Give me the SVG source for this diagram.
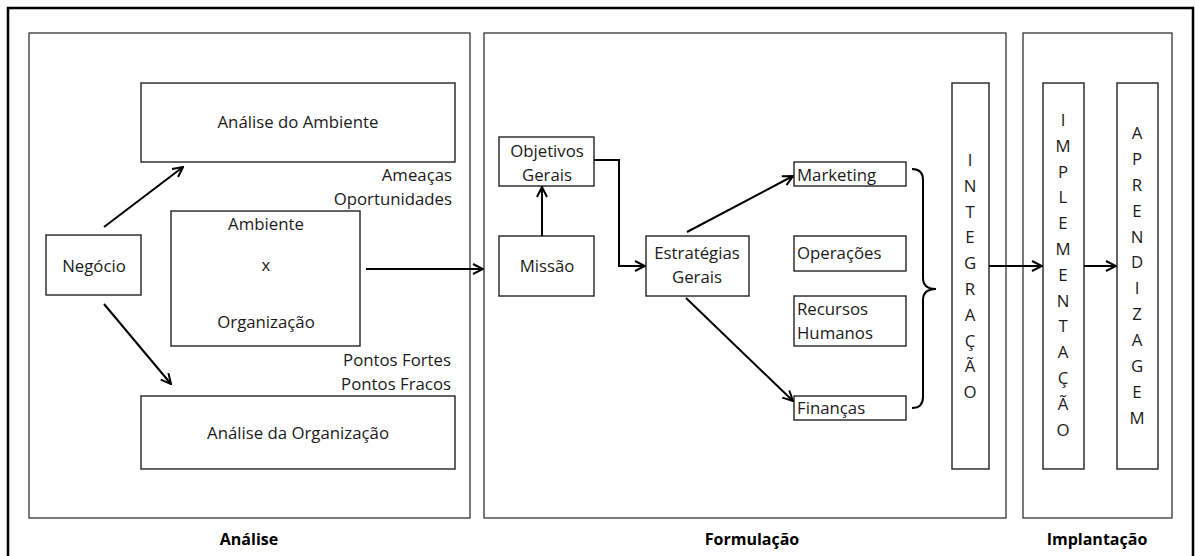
<svg xmlns="http://www.w3.org/2000/svg" width="1195" height="556" viewBox="0 0 1195 556">
  <style>
    .frame { fill: none; stroke: #000; stroke-width: 2.5; }
    .panel { fill: #fff; stroke: #333; stroke-width: 1.3; }
    .box { fill: #fff; stroke: #222; stroke-width: 1.4; }
    .t { font-family: "Open Sans", "Noto Sans", sans-serif; font-size: 16.8px; fill: #1a1a1a; }
    .c { text-anchor: middle; }
    .r { text-anchor: end; }
    .v { font-family: "Open Sans", "Noto Sans", sans-serif; font-size: 16.8px; fill: #1a1a1a; text-anchor: middle; }
    .lbl { font-family: "Open Sans", "Noto Sans", sans-serif; font-size: 16px; font-weight: bold; fill: #000; text-anchor: middle; }
    .conn { fill: none; stroke: #000; stroke-width: 2; }
  </style>
  <defs>
    <marker id="arrow" viewBox="0 0 12 12" refX="11" refY="6" markerWidth="12" markerHeight="12" markerUnits="userSpaceOnUse" orient="auto">
      <path d="M1,1 L11,6 L1,11" fill="none" stroke="#000" stroke-width="2"/>
    </marker>
  </defs>

  <rect width="1195" height="556" fill="#fff"/>
  <!-- outer frame, open at the bottom -->
  <path class="frame" d="M8,560 L8,8 L1193,8 L1193,560"/>

  <!-- stage panels -->
  <g id="analise">
    <rect class="panel" x="29" y="33" width="441" height="485"/>
    <text class="lbl" x="249" y="545">Análise</text>
  </g>
  <g id="formulacao">
    <rect class="panel" x="484" y="33" width="522" height="485"/>
    <text class="lbl" x="752" y="545">Formulação</text>
  </g>
  <g id="implantacao">
    <rect class="panel" x="1023" y="33" width="149" height="485"/>
    <text class="lbl" x="1097" y="545">Implantação</text>
  </g>

  <!-- analysis nodes -->
  <g id="negocio">
    <rect class="box" x="46" y="235" width="95" height="60"/>
    <text class="t c" x="94" y="272">Negócio</text>
  </g>
  <g id="analise-ambiente">
    <rect class="box" x="141" y="83" width="314" height="79"/>
    <text class="t c" x="298" y="128">Análise do Ambiente</text>
  </g>
  <g id="ambiente-organizacao">
    <rect class="box" x="171" y="211" width="189" height="135"/>
    <text class="t c" x="266" y="230">Ambiente</text>
    <text class="t c" x="266" y="271">x</text>
    <text class="t c" x="266" y="328">Organização</text>
  </g>
  <g id="analise-organizacao">
    <rect class="box" x="141" y="396" width="314" height="73"/>
    <text class="t c" x="298" y="439">Análise da Organização</text>
  </g>
  <g id="ameacas">
    <text class="t r" x="452" y="181">Ameaças</text>
    <text class="t r" x="452" y="205">Oportunidades</text>
  </g>
  <g id="pontos">
    <text class="t r" x="451" y="366">Pontos Fortes</text>
    <text class="t r" x="451" y="390">Pontos Fracos</text>
  </g>

  <!-- formulation nodes -->
  <g id="objetivos">
    <rect class="box" x="499" y="137" width="95" height="49"/>
    <text class="t c" x="547" y="157">Objetivos</text>
    <text class="t c" x="547" y="181">Gerais</text>
  </g>
  <g id="missao">
    <rect class="box" x="499" y="236" width="95" height="60"/>
    <text class="t c" x="547" y="272">Missão</text>
  </g>
  <g id="estrategias">
    <rect class="box" x="646" y="236" width="103" height="60"/>
    <text class="t c" x="697" y="259">Estratégias</text>
    <text class="t c" x="697" y="283">Gerais</text>
  </g>
  <g id="marketing">
    <rect class="box" x="794" y="162" width="112" height="24"/>
    <text class="t" x="797" y="181">Marketing</text>
  </g>
  <g id="operacoes">
    <rect class="box" x="794" y="236" width="112" height="35"/>
    <text class="t" x="797" y="259">Operações</text>
  </g>
  <g id="recursos-humanos">
    <rect class="box" x="794" y="296" width="112" height="50"/>
    <text class="t" x="797" y="315">Recursos</text>
    <text class="t" x="797" y="339">Humanos</text>
  </g>
  <g id="financas">
    <rect class="box" x="794" y="396" width="112" height="24"/>
    <text class="t" x="797" y="414">Finanças</text>
  </g>
  <g id="integracao">
    <rect class="box" x="952" y="83" width="37" height="386"/>
    <text class="v" x="970" y="166">I</text>
    <text class="v" x="970" y="192">N</text>
    <text class="v" x="970" y="218">T</text>
    <text class="v" x="970" y="243">E</text>
    <text class="v" x="970" y="269">G</text>
    <text class="v" x="970" y="295">R</text>
    <text class="v" x="970" y="321">A</text>
    <text class="v" x="970" y="347">Ç</text>
    <text class="v" x="970" y="372">Ã</text>
    <text class="v" x="970" y="398">O</text>
  </g>

  <!-- implementation nodes -->
  <g id="implementacao">
    <rect class="box" x="1043" y="83" width="41" height="386"/>
    <text class="v" x="1063" y="126">I</text>
    <text class="v" x="1063" y="152">M</text>
    <text class="v" x="1063" y="178">P</text>
    <text class="v" x="1063" y="203">L</text>
    <text class="v" x="1063" y="229">E</text>
    <text class="v" x="1063" y="255">M</text>
    <text class="v" x="1063" y="281">E</text>
    <text class="v" x="1063" y="307">N</text>
    <text class="v" x="1063" y="332">T</text>
    <text class="v" x="1063" y="358">A</text>
    <text class="v" x="1063" y="384">Ç</text>
    <text class="v" x="1063" y="410">Ã</text>
    <text class="v" x="1063" y="436">O</text>
  </g>
  <g id="aprendizagem">
    <rect class="box" x="1117" y="83" width="41" height="386"/>
    <text class="v" x="1137" y="139">A</text>
    <text class="v" x="1137" y="165">P</text>
    <text class="v" x="1137" y="191">R</text>
    <text class="v" x="1137" y="217">E</text>
    <text class="v" x="1137" y="243">N</text>
    <text class="v" x="1137" y="268">D</text>
    <text class="v" x="1137" y="294">I</text>
    <text class="v" x="1137" y="320">Z</text>
    <text class="v" x="1137" y="346">A</text>
    <text class="v" x="1137" y="372">G</text>
    <text class="v" x="1137" y="398">E</text>
    <text class="v" x="1137" y="424">M</text>
  </g>

  <!-- connectors -->
  <g id="connectors">
    <line class="conn" x1="104" y1="227" x2="183" y2="167" marker-end="url(#arrow)"/>
    <line class="conn" x1="104" y1="304" x2="171" y2="384" marker-end="url(#arrow)"/>
    <line class="conn" x1="366" y1="269" x2="483" y2="269" marker-end="url(#arrow)"/>
    <line class="conn" x1="542" y1="236" x2="542" y2="187" marker-end="url(#arrow)"/>
    <path class="conn" d="M594,160 L619,160 L619,266 L645,266" marker-end="url(#arrow)"/>
    <line class="conn" x1="687" y1="232" x2="793" y2="176" marker-end="url(#arrow)"/>
    <line class="conn" x1="686" y1="298" x2="793" y2="401" marker-end="url(#arrow)"/>
    <path class="conn" d="M912,169 Q923,169 923,180 L923,278 Q923,289 936,289 Q923,289 923,300 L923,397 Q923,408 912,408"/>
    <line class="conn" x1="989" y1="266" x2="1042" y2="266" marker-end="url(#arrow)"/>
    <line class="conn" x1="1084" y1="266" x2="1116" y2="266" marker-end="url(#arrow)"/>
  </g>
</svg>
